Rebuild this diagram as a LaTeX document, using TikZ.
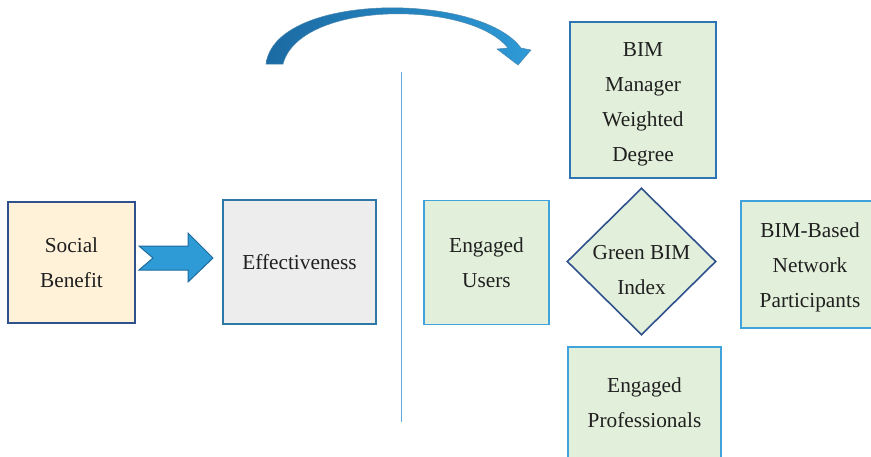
\documentclass[tikz,border=0pt]{standalone}
\usepackage{fontspec}
\setmainfont{Liberation Serif}
\newfontfamily\tnr{Liberation Serif}
\usetikzlibrary{shapes.geometric}
\definecolor{txt}{HTML}{202020}
\definecolor{dkblue}{HTML}{2F528F}
\definecolor{midblue}{HTML}{2E75B6}
\definecolor{ltblue}{HTML}{41A3DC}
\definecolor{tealblue}{HTML}{2E78A8}
\definecolor{yelfill}{HTML}{FFF2D9}
\definecolor{grayfill}{HTML}{EDEDED}
\definecolor{grnfill}{HTML}{E2EFDA}
\definecolor{arrfill}{HTML}{2E9AD6}
\definecolor{arrline}{HTML}{1E6C9E}
\definecolor{arrdark}{HTML}{1B6AA3}
\definecolor{vline}{HTML}{5DA8DC}
\begin{document}
\begin{tikzpicture}[x=1pt,y=-1pt,
  lbl/.style={font=\tnr\fontsize{21.3}{35}\selectfont, text=txt, align=center},
  boxa/.style={draw, line width=1.6pt, inner sep=0pt},
]
\useasboundingbox (0,0) rectangle (871,456);
% boxes
\node[boxa, draw=dkblue, fill=yelfill, minimum width=127pt, minimum height=121pt, lbl] (sb) at (71.5,262.5) {Social\\Benefit};
\node[boxa, draw=tealblue, fill=grayfill, minimum width=153pt, minimum height=124pt, lbl] (eff) at (299.5,262) {Effectiveness};
\node[boxa, draw=midblue, fill=grnfill, minimum width=146pt, minimum height=156pt] (bim) at (643,100) {};
\node[lbl] (bimtxt) at (643,104) {BIM\\Manager\\Weighted\\Degree};
\node[boxa, draw=ltblue, fill=grnfill, minimum width=125pt, minimum height=124pt, lbl] (eu) at (486.5,262.5) {Engaged\\Users};
\node[boxa, draw=ltblue, fill=grnfill, minimum width=140pt, minimum height=127pt, anchor=west] (bb) at (740,264.5) {};
\node[lbl] (bbtxt) at (810,267.5) {BIM-Based\\Network\\Participants};
\node[boxa, draw=ltblue, fill=grnfill, minimum width=153pt, minimum height=130pt, anchor=north] (ep) at (644.5,346) {};
\node[lbl] (eptxt) at (644.5,403) {Engaged\\Professionals};
\node[draw=dkblue, line width=1.6pt, fill=grnfill, diamond, minimum width=149pt, minimum height=147pt, inner sep=0pt] (gb) at (641.5,261.5) {};
\node[lbl] (gbtxt) at (641.5,270) {Green BIM\\Index};
% vertical divider
\coordinate (vt) at (401,72);
\coordinate (vb) at (401,422);
\draw[vline, line width=0.8pt] (vt) -- (vb);
% block arrow
\draw[arrline, fill=arrfill, line width=1pt, line join=miter]
  (139,246) -- (188,246) -- (188,233) -- (213,258) -- (188,282) -- (188,270) -- (139,270) -- (153,258) -- cycle;
% curved arrow
\shade[left color=arrdark, right color=arrfill, draw=arrline!80, line width=0.5pt]
  (266,64) .. controls (275,-8) and (480,-8) .. (521,48)
  -- (531,50) -- (518,65) -- (497,49) -- (508,48)
  .. controls (470,0) and (300,0) .. (283,64) -- cycle;
\end{tikzpicture}
\end{document}
